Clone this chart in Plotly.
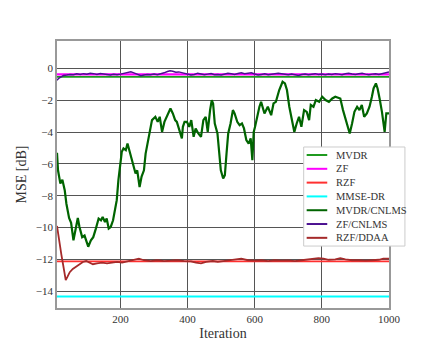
import plotly.graph_objects as go

# constant baselines (dB)
x_span = [11, 1000]
mvdr_db = -0.53
zf_db = -0.38
rzf_db = -12.12
mmse_dr_db = -14.32

# MVDR/CNLMS
cnlms_it = [11, 14, 21, 27, 34, 39, 47, 53, 60, 66, 73, 78, 86, 93, 98, 104, 112, 119, 127, 135,
            142, 147, 154, 159, 165, 171, 178, 184, 189, 194, 199, 204, 209, 216, 221, 228, 235, 240,
            245, 250, 257, 263, 270, 275, 285, 294, 304, 311, 317, 324, 331, 339, 349, 356, 363, 368,
            378, 383, 386, 391, 398, 405, 411, 418, 424, 432, 440, 447, 454, 460, 467, 472, 476, 481,
            489, 494, 499, 506, 511, 516, 521, 528, 535, 540, 548, 555, 562, 568, 575, 582, 588, 593,
            597, 601, 609, 614, 619, 629, 639, 649, 656, 663, 673, 683, 690, 696, 703, 710, 718, 725,
            732, 739, 747, 755, 762, 767, 775, 782, 792, 801, 811, 821, 831, 840, 855, 863, 870, 877,
            883, 890, 897, 905, 912, 919, 926, 934, 942, 949, 954, 961, 966, 972, 979, 987, 992, 1000]
cnlms_db = [-5.3, -6.4, -7.23, -7.0, -7.65, -8.5, -9.4, -9.7, -10.8, -10.2, -9.4, -9.96, -10.6, -10.5,
            -10.8, -11.2, -10.8, -10.6, -10.05, -9.43, -9.54, -9.33, -9.65, -9.43, -10.06, -9.96, -9.54,
            -8.7, -8.28, -7.0, -5.97, -5.24, -5.03, -5.14, -4.72, -5.24, -5.77, -6.29, -6.6, -6.4, -7.45,
            -6.8, -6.4, -5.35, -4.2, -3.25, -3.04, -3.36, -3.04, -3.99, -3.36, -2.94, -2.52, -2.83, -3.25,
            -3.36, -3.99, -4.4, -3.67, -3.36, -3.36, -3.67, -3.25, -4.3, -3.77, -4.09, -4.3, -3.25, -3.04,
            -3.99, -2.62, -2.0, -2.2, -3.46, -4.09, -5.14, -6.4, -6.92, -6.71, -5.35, -4.09, -3.46, -2.62,
            -2.83, -3.36, -3.57, -3.46, -3.77, -4.5, -4.72, -4.4, -5.77, -3.99, -3.67, -2.83, -2.41, -2.1,
            -2.83, -2.41, -2.94, -2.2, -2.1, -1.36, -0.84, -0.94, -1.36, -2.41, -3.25, -3.99, -3.46, -3.04,
            -3.67, -2.62, -2.73, -3.25, -2.3, -2.41, -1.99, -2.1, -1.78, -1.99, -2.1, -1.89, -1.78, -1.89,
            -2.62, -3.15, -3.67, -4.09, -3.46, -2.73, -2.41, -2.62, -2.3, -3.04, -2.83, -2.41, -1.78,
            -1.26, -0.94, -1.26, -1.89, -2.73, -3.99, -2.83, -2.83]

# ZF/CNLMS
zfc_it = [11, 16, 22, 30, 40, 50, 60, 70, 80, 90, 100, 110, 120, 130, 140, 150, 160, 170, 180, 190,
          200, 210, 220, 231, 240, 250, 261, 270, 280, 290, 300, 310, 320, 330, 340, 348, 356, 365, 374,
          382, 392, 400, 410, 420, 430, 440, 450, 460, 470, 480, 490, 500, 510, 520, 530, 540, 550, 560,
          570, 580, 590, 600, 610, 620, 630, 640, 650, 660, 670, 680, 690, 700, 710, 720, 730, 740, 750,
          760, 770, 780, 790, 800, 810, 820, 830, 840, 850, 860, 870, 880, 890, 900, 910, 920, 930, 940,
          950, 960, 970, 980, 990, 1000]
zfc_db = [-0.75, -0.62, -0.55, -0.45, -0.42, -0.38, -0.40, -0.34, -0.38, -0.33, -0.36, -0.30, -0.33,
          -0.38, -0.32, -0.36, -0.40, -0.42, -0.37, -0.40, -0.36, -0.30, -0.25, -0.21, -0.28, -0.38,
          -0.46, -0.42, -0.38, -0.40, -0.36, -0.40, -0.36, -0.28, -0.20, -0.15, -0.18, -0.24, -0.22,
          -0.27, -0.35, -0.38, -0.42, -0.38, -0.30, -0.35, -0.40, -0.36, -0.32, -0.40, -0.38, -0.42,
          -0.35, -0.30, -0.34, -0.38, -0.32, -0.28, -0.33, -0.30, -0.27, -0.35, -0.42, -0.38, -0.34,
          -0.40, -0.36, -0.32, -0.30, -0.33, -0.37, -0.40, -0.35, -0.40, -0.44, -0.38, -0.35, -0.40,
          -0.37, -0.33, -0.38, -0.36, -0.40, -0.35, -0.38, -0.33, -0.36, -0.40, -0.34, -0.30, -0.35,
          -0.38, -0.34, -0.30, -0.36, -0.40, -0.36, -0.34, -0.38, -0.32, -0.26, -0.22]

# RZF/DDAA
ddaa_it = [11, 14, 19, 24, 29, 33, 37, 42, 49, 58, 68, 78, 88, 98, 108, 118, 130, 145, 160, 175, 190,
           205, 220, 240, 255, 270, 290, 310, 330, 350, 370, 390, 410, 425, 440, 455, 475, 490, 505, 520,
           540, 560, 580, 600, 620, 640, 660, 680, 700, 720, 740, 760, 776, 790, 805, 820, 840, 855, 870,
           890, 910, 930, 950, 970, 983, 1000]
ddaa_db = [-9.9, -10.4, -11.2, -11.7, -12.3, -12.9, -13.3, -13.1, -12.8, -12.6, -12.45, -12.3, -12.16,
           -12.1, -12.2, -12.3, -12.25, -12.2, -12.25, -12.2, -12.15, -12.2, -12.12, -12.05, -11.95,
           -12.05, -12.1, -12.05, -12.1, -12.08, -12.05, -12.1, -12.12, -12.2, -12.25, -12.15, -12.1,
           -12.15, -12.1, -12.05, -12.02, -11.95, -12.05, -12.08, -12.05, -12.1, -12.05, -12.08, -12.06,
           -12.1, -12.05, -12.0, -11.92, -11.92, -11.95, -12.02, -12.0, -11.92, -12.0, -12.05, -12.05,
           -12.08, -12.05, -12.02, -11.95, -11.95]

font = 'Liberation Serif'

series = [
    ('MVDR', x_span, [mvdr_db] * 2, '#1f9a1f', 1.8),
    ('ZF', x_span, [zf_db] * 2, '#ff00ff', 2.2),
    ('RZF', x_span, [rzf_db] * 2, '#ff3030', 1.8),
    ('MMSE-DR', x_span, [mmse_dr_db] * 2, '#00ffff', 2.0),
    ('MVDR/CNLMS', cnlms_it, cnlms_db, '#006400', 2.2),
    ('ZF/CNLMS', zfc_it, zfc_db, '#4b1090', 1.5),
    ('RZF/DDAA', ddaa_it, ddaa_db, '#a52a2a', 1.8),
]

fig = go.Figure()
for name, xs, ys, color, width in series:
    fig.add_trace(go.Scatter(x=xs, y=ys, name=name, mode='lines', showlegend=False,
                             line=dict(color=color, width=width)))

# compact legend box (plotly's own legend rows are too tall here)
shapes = [dict(type='rect', xref='paper', yref='paper', x0=0.743, x1=1.048, y0=0.232, y1=0.603,
               fillcolor='white', line=dict(color='#cccccc', width=1), layer='above')]
annotations = []
for i, (name, xs, ys, color, width) in enumerate(series):
    yy = 0.573 - i * 0.0517
    shapes.append(dict(type='line', xref='paper', yref='paper', x0=0.752, x1=0.814, y0=yy, y1=yy,
                       line=dict(color=color, width=2), layer='above'))
    annotations.append(dict(xref='paper', yref='paper', x=0.835, y=yy, text=name, showarrow=False,
                            xanchor='left', yanchor='middle',
                            font=dict(family=font, size=10.5, color='#333333')))

axis_common = dict(showline=True, mirror=True, linecolor='#999999', linewidth=1.5,
                   showgrid=True, gridcolor='#555555', gridwidth=1, zeroline=False,
                   ticks='', tickfont=dict(family=font, size=11, color='#333333'))
fig.update_layout(
    width=432, height=346,
    margin=dict(l=46, r=51, t=33, b=46),
    plot_bgcolor='white', paper_bgcolor='white',
    font=dict(family=font, color='#333333'),
    xaxis=dict(range=[11, 1000], tickvals=[200, 400, 600, 800, 1000],
               title=dict(text='Iteration', font=dict(family=font, size=14), standoff=4),
               **axis_common),
    yaxis=dict(range=[-15.05, 1.72], tickvals=[0, -2, -4, -6, -8, -10, -12, -14],
               title=dict(text='MSE [dB]', font=dict(family=font, size=14), standoff=6),
               **axis_common),
    shapes=shapes,
    annotations=annotations,
    showlegend=False,
)

fig.write_html('out.html')
